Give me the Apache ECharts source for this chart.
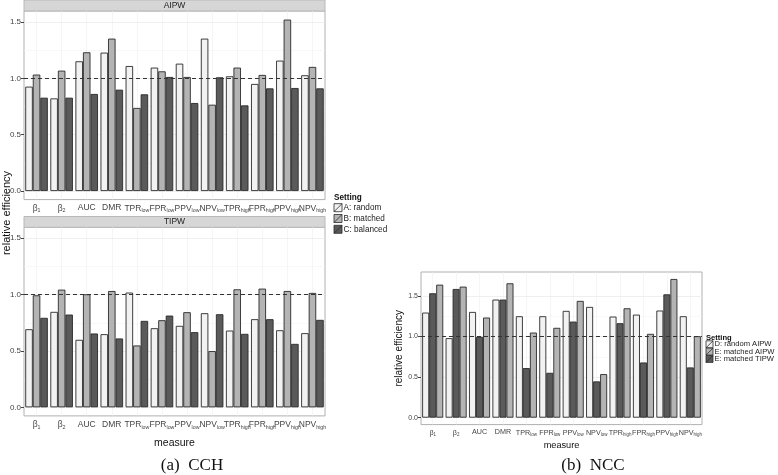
<!DOCTYPE html>
<html>
<head>
<meta charset="utf-8">
<script src="https://cdn.jsdelivr.net/npm/echarts@6/dist/echarts.min.js"></script>
<style>
    html, body { margin: 0; padding: 0; background: #fff; }
    #chart { width: 778px; height: 475px; }
</style>
</head>
<body>
<div id="chart"></div>
<script>
    // categories (x) — "_" marks the subscript part
    var measures = ['β_1', 'β_2', 'AUC', 'DMR', 'TPR_low', 'FPR_low', 'PPV_low', 'NPV_low',
        'TPR_high', 'FPR_high', 'PPV_high', 'NPV_high'];

    // (a) CCH, AIPW facet
    var aipwRandom = [0.926, 0.822, 1.151, 1.228, 1.109, 1.095, 1.130, 1.352, 1.018, 0.950, 1.157, 1.027];
    var aipwMatched = [1.033, 1.068, 1.231, 1.352, 0.737, 1.062, 1.012, 0.766, 1.095, 1.030, 1.521, 1.101];
    var aipwBalanced = [0.828, 0.828, 0.861, 0.899, 0.858, 1.012, 0.781, 1.009, 0.760, 0.911, 0.914, 0.911];

    // (a) CCH, TIPW facet
    var tipwRandom = [0.693, 0.847, 0.599, 0.649, 1.018, 0.702, 0.723, 0.835, 0.681, 0.782, 0.684, 0.658];
    var tipwMatched = [0.994, 1.044, 1.003, 1.032, 0.549, 0.773, 0.844, 0.499, 1.047, 1.053, 1.032, 1.015];
    var tipwBalanced = [0.794, 0.823, 0.655, 0.611, 0.767, 0.814, 0.667, 0.826, 0.652, 0.782, 0.563, 0.776];

    // (b) NCC
    var nccRandomAipw = [1.295, 0.980, 1.303, 1.455, 1.250, 1.250, 1.316, 1.365, 1.246, 1.270, 1.320, 1.250];
    var nccMatchedTipw = [1.533, 1.586, 0.996, 1.455, 0.611, 0.553, 1.184, 0.447, 1.164, 0.680, 1.520, 0.619];
    var nccMatchedAipw = [1.639, 1.615, 1.234, 1.656, 1.049, 1.107, 1.439, 0.537, 1.348, 1.033, 1.709, 1.004];

    var settingsA = ['A: random', 'B: matched', 'C: balanced'];
    var settingsB = ['D: random AIPW', 'E: matched AIPW', 'E: matched TIPW'];
    var yTicks = [0, 0.5, 1, 1.5];
    var yMinor = [0.25, 0.75, 1.25];

    var FONT = 'Liberation Sans';
    var fillWhite = '#f2f2f2', fillGray = '#b4b4b4', fillDark = '#5a5a5a';

    var myChart = echarts.init(document.getElementById('chart'));

    function subLabel(size) {
        return {
            interval: 0,
            color: '#444',
            fontFamily: FONT,
            margin: 4,
            formatter: function (v) {
                var p = v.split('_');
                return p[1] ? '{m|' + p[0] + '}{s|' + p[1] + '}' : '{m|' + p[0] + '}';
            },
            rich: {
                m: { fontSize: size, fontFamily: FONT, color: '#444' },
                s: { fontSize: size * 0.62, fontFamily: FONT, color: '#444', padding: [size * 0.55, 0, 0, 0] }
            }
        };
    }

    function catAxis(gi, size, name, nameGap) {
        return {
            type: 'category', gridIndex: gi, data: measures,
            axisLine: { show: false, onZero: false },
            axisTick: { alignWithLabel: true, length: 3, lineStyle: { color: '#444' } },
            axisLabel: subLabel(size),
            splitLine: { show: false },
            name: name, nameLocation: 'middle', nameGap: nameGap,
            nameTextStyle: { fontFamily: FONT, fontSize: size + 2, color: '#111' }
        };
    }

    // hidden value axis so vertical grid lines fall on category centres
    function vGridAxis(gi) {
        return {
            type: 'value', gridIndex: gi, min: -0.5, max: 11.5, position: 'top',
            axisLine: { show: false, onZero: false }, axisLabel: { show: false },
            axisTick: { show: false, customValues: [0, 1, 2, 3, 4, 5, 6, 7, 8, 9, 10, 11] },
            splitLine: { show: true, lineStyle: { color: '#eeeeee', width: 0.6 } }
        };
    }

    function valAxis(gi, min, max, size, name, nameGap) {
        return {
            type: 'value', gridIndex: gi, min: min, max: max, position: 'left',
            axisLine: { show: false, onZero: false },
            axisTick: { show: true, length: 3, customValues: yTicks, lineStyle: { color: '#444' } },
            axisLabel: {
                customValues: yTicks, color: '#444', fontFamily: FONT, fontSize: size, margin: 3,
                formatter: function (v) { return v.toFixed(1); }
            },
            splitLine: { show: true, lineStyle: { color: '#ebebeb', width: 0.8 } },
            name: name, nameLocation: 'middle', nameGap: nameGap,
            nameTextStyle: { fontFamily: FONT, fontSize: size + 3, color: '#111' }
        };
    }

    function minorAxis(gi, min, max) {
        return {
            type: 'value', gridIndex: gi, min: min, max: max, position: 'right',
            axisLine: { show: false, onZero: false }, axisLabel: { show: false },
            axisTick: { show: false, customValues: yMinor },
            splitLine: { show: true, lineStyle: { color: '#f4f4f4', width: 0.6 } }
        };
    }

    function bars(name, data, xi, yi, color, withLine) {
        var s = {
            type: 'bar', name: name, data: data, xAxisIndex: xi, yAxisIndex: yi,
            barGap: '0%', barCategoryGap: '10%',
            itemStyle: { color: color, borderColor: '#2a2a2a', borderWidth: 0.9 },
            z: 3
        };
        if (withLine) {
            s.markLine = {
                silent: true, symbol: 'none', animation: false,
                label: { show: false },
                lineStyle: { color: '#333', type: [4, 3], width: 1.1 },
                data: [{ yAxis: 1 }]
            };
        }
        return s;
    }

    // legend drawn as graphic: key box with the ggplot slash, then label
    function legendKeys(names, fills, x, yTop, step, key, fontSize) {
        var out = [{
            type: 'text', x: x, y: yTop - step + 0.5,
            style: { text: 'Setting', fontFamily: FONT, fontSize: fontSize, fontWeight: 'bold', fill: '#111', verticalAlign: 'middle' }
        }];
        names.forEach(function (n, i) {
            var cy = yTop + i * step;
            out.push({ type: 'rect', shape: { x: x, y: cy - key / 2, width: key, height: key },
                style: { fill: fills[i], stroke: '#2a2a2a', lineWidth: 0.8 } });
            out.push({ type: 'line', shape: { x1: x, y1: cy + key / 2, x2: x + key, y2: cy - key / 2 },
                style: { stroke: '#2a2a2a', lineWidth: 0.8 } });
            out.push({ type: 'text', x: x + key + 1.5, y: cy,
                style: { text: n, fontFamily: FONT, fontSize: fontSize, fill: '#222', verticalAlign: 'middle' } });
        });
        return out;
    }

    var yMinA = -0.076, yMaxA = 1.597;
    var yMinB = -0.0855, yMaxB = 1.795;

    var graphics = [
        { type: 'rect', shape: { x: 24, y: 0, width: 301, height: 11 }, style: { fill: '#d6d6d6', stroke: '#b8b8b8', lineWidth: 1 } },
        { type: 'text', x: 174.5, y: 5.5, style: { text: 'AIPW', fontFamily: FONT, fontSize: 8.5, fill: '#222', align: 'center', verticalAlign: 'middle' } },
        { type: 'rect', shape: { x: 24, y: 216.5, width: 301, height: 10.8 }, style: { fill: '#d6d6d6', stroke: '#b8b8b8', lineWidth: 1 } },
        { type: 'text', x: 174.5, y: 222, style: { text: 'TIPW', fontFamily: FONT, fontSize: 8.5, fill: '#222', align: 'center', verticalAlign: 'middle' } },
        { type: 'text', x: 7, y: 213, rotation: Math.PI / 2, style: { text: 'relative efficiency', fontFamily: FONT, fontSize: 11, fill: '#111', align: 'center', verticalAlign: 'middle' } },
        { type: 'text', x: 192, y: 466, style: { text: '(a)  CCH', fontFamily: 'Liberation Serif', fontSize: 17, fill: '#111', align: 'center', verticalAlign: 'middle' } },
        { type: 'text', x: 593, y: 466, style: { text: '(b)  NCC', fontFamily: 'Liberation Serif', fontSize: 17, fill: '#111', align: 'center', verticalAlign: 'middle' } }
    ].concat(
        legendKeys(settingsA, [fillWhite, fillGray, fillDark], 334, 207.7, 10.8, 8, 8.2),
        legendKeys(settingsB, [fillWhite, fillGray, fillDark], 706, 344.3, 7.3, 7, 7.6)
    );

    var option = {
        animation: false,
        grid: [
            { left: 24, top: 11, width: 301, height: 188.6, show: true, borderColor: '#b0b0b0', borderWidth: 1 },
            { left: 24, top: 227.3, width: 301, height: 188.6, show: true, borderColor: '#b0b0b0', borderWidth: 1 },
            { left: 421, top: 272, width: 281, height: 152.6, show: true, borderColor: '#b0b0b0', borderWidth: 1 }
        ],
        xAxis: [
            catAxis(0, 8.5, '', 0),
            catAxis(1, 8.5, 'measure', 22),
            catAxis(2, 7.2, 'measure', 16),
            vGridAxis(0), vGridAxis(1), vGridAxis(2)
        ],
        yAxis: [
            valAxis(0, yMinA, yMaxA, 8, '', 0),
            valAxis(1, yMinA, yMaxA, 8, '', 0),
            valAxis(2, yMinB, yMaxB, 7, 'relative efficiency', 17),
            minorAxis(0, yMinA, yMaxA), minorAxis(1, yMinA, yMaxA), minorAxis(2, yMinB, yMaxB)
        ],
        graphic: graphics,
        series: [
            bars(settingsA[0], aipwRandom, 0, 0, fillWhite, true),
            bars(settingsA[1], aipwMatched, 0, 0, fillGray),
            bars(settingsA[2], aipwBalanced, 0, 0, fillDark),
            bars(settingsA[0], tipwRandom, 1, 1, fillWhite, true),
            bars(settingsA[1], tipwMatched, 1, 1, fillGray),
            bars(settingsA[2], tipwBalanced, 1, 1, fillDark),
            bars(settingsB[0], nccRandomAipw, 2, 2, fillWhite, true),
            bars(settingsB[2], nccMatchedTipw, 2, 2, fillDark),
            bars(settingsB[1], nccMatchedAipw, 2, 2, fillGray)
        ]
    };

    myChart.setOption(option);
</script>
</body>
</html>
